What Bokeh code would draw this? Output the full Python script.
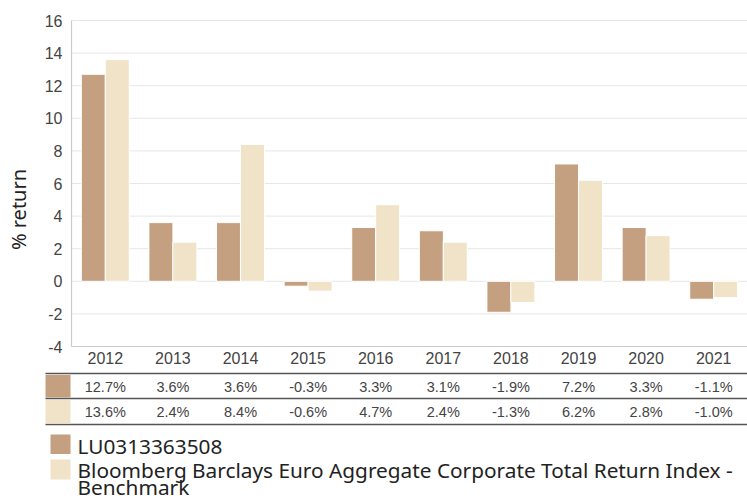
import math
from bokeh.plotting import figure
from bokeh.models import Range1d, ColumnDataSource
from bokeh.core.properties import value
from bokeh.embed import file_html
from bokeh.resources import INLINE

years = ["2012", "2013", "2014", "2015", "2016", "2017", "2018", "2019", "2020", "2021"]
fund = [12.7, 3.6, 3.6, -0.3, 3.3, 3.1, -1.9, 7.2, 3.3, -1.1]
bench = [13.6, 2.4, 8.4, -0.6, 4.7, 2.4, -1.3, 6.2, 2.8, -1.0]
fund_name = "LU0313363508"
bench_name_1 = "Bloomberg Barclays Euro Aggregate Corporate Total Return Index -"
bench_name_2 = "Benchmark"
y_axis_title = "% return"
y_ticks = [-4, -2, 0, 2, 4, 6, 8, 10, 12, 14, 16]

FUND_COLOR = "#c4a080"
BENCH_COLOR = "#f0e3c7"
TEXT_COLOR = "#444444"
LEGEND_COLOR = "#222222"

# ---- layout (page pixels) ----
W, H = 747, 500
PLOT_L, PLOT_R = 71, 747          # plot area left / right
PLOT_T, PLOT_B = 20, 346          # plot area top / bottom
YMIN, YMAX = y_ticks[0], y_ticks[-1]
N = len(years)
UNIT = (PLOT_R - PLOT_L) / N              # px per category
PXY = (PLOT_B - PLOT_T) / (YMAX - YMIN)   # px per y unit


def xd(px):
    return -0.5 + (px - PLOT_L) / UNIT


def yd(py):
    return YMAX - (py - PLOT_T) / PXY


xs = list(range(N))
src = ColumnDataSource(dict(
    x=xs,
    xf=[x - 0.177 for x in xs],
    xb=[x + 0.177 for x in xs],
    fund=fund,
    bench=bench,
    year=years,
    fund_lbl=[f"{v:.1f}%" for v in fund],
    bench_lbl=[f"{v:.1f}%" for v in bench],
))

p = figure(width=W, height=H, output_backend="svg", toolbar_location=None,
           x_range=Range1d(xd(0), xd(W)), y_range=Range1d(yd(H), yd(0)),
           min_border=0, x_axis_location=None, y_axis_location=None)
p.outline_line_color = None
p.grid.visible = False

# grid lines
p.segment(x0=xd(PLOT_L), x1=xd(PLOT_R), y0=y_ticks, y1=y_ticks,
          line_color="#e6e6e6", line_width=1)

# bars
p.vbar(x="xf", top="fund", bottom=0, width=0.355, source=src,
       fill_color=FUND_COLOR, line_color="white", line_width=1)
p.vbar(x="xb", top="bench", bottom=0, width=0.355, source=src,
       fill_color=BENCH_COLOR, line_color="white", line_width=1)

# axis lines
p.segment(x0=[xd(PLOT_L), xd(PLOT_L)], x1=[xd(PLOT_L), xd(PLOT_R)],
          y0=[YMIN, YMIN], y1=[YMAX, YMIN], line_color="#cccccc", line_width=1.2)

# y tick labels
p.text(x=xd(62), y=y_ticks, text=[str(t) for t in y_ticks],
       text_align="right", text_baseline="middle", text_font=value("Liberation Sans"),
       text_font_size="16px", text_color=TEXT_COLOR)

# y axis title
p.text(x=[xd(18)], y=[yd(209)], text=[y_axis_title], angle=math.pi / 2,
       text_align="center", text_baseline="middle", text_font=value("Noto Sans"),
       text_font_size="20px", text_color=LEGEND_COLOR)

# category labels
p.text(x="x", y=yd(357), text="year", source=src,
       text_align="center", text_baseline="middle", text_font=value("Liberation Sans"),
       text_font_size="16px", text_color=TEXT_COLOR)

# ---- data table ----
tl = xd(45)
line_ys = [yd(373), yd(398), yd(424)]
p.segment(x0=[tl] * 3, x1=[xd(PLOT_R)] * 3, y0=line_ys, y1=line_ys,
          line_color="#555555", line_width=1.6)
p.quad(left=[tl, tl], right=[xd(70)] * 2, top=[yd(374.5), yd(399.5)],
       bottom=[yd(397), yd(423)], fill_color=[FUND_COLOR, BENCH_COLOR], line_color=None)
p.text(x="x", y=yd(386), text="fund_lbl", source=src,
       text_align="center", text_baseline="middle", text_font=value("Liberation Sans"),
       text_font_size="14.5px", text_color=TEXT_COLOR)
p.text(x="x", y=yd(411), text="bench_lbl", source=src,
       text_align="center", text_baseline="middle", text_font=value("Liberation Sans"),
       text_font_size="14.5px", text_color=TEXT_COLOR)

# ---- legend ----
p.quad(left=[xd(50)] * 2, right=[xd(70)] * 2, top=[yd(434), yd(459)],
       bottom=[yd(453.5), yd(479)], fill_color=[FUND_COLOR, BENCH_COLOR], line_color=None)
lx = xd(77)
p.text(x=[lx, lx, lx], y=[yd(445), yd(469.5), yd(486.5)],
       text=[fund_name, bench_name_1, bench_name_2],
       text_align="left", text_baseline="alphabetic", text_font=value("Noto Sans"),
       text_font_size="20.8px", text_color=LEGEND_COLOR)

open("out.html", "w").write(file_html(p, INLINE))
